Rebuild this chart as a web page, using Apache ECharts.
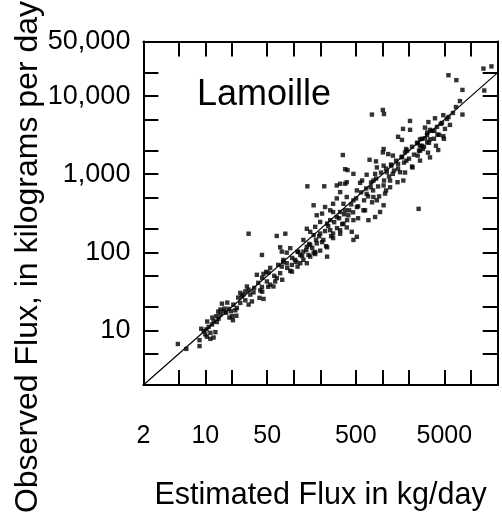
<!DOCTYPE html>
<html>
<head>
<meta charset="utf-8">
<script src="https://cdn.jsdelivr.net/npm/echarts@6/dist/echarts.min.js"></script>
<style>
html,body{margin:0;padding:0;background:#fff;}
#chart{width:502px;height:522px;}
</style>
</head>
<body>
<div id="chart"></div>
<script>
// ---- data (kg/day) ----
const estimatedFlux = [
4.9,6.1,8.6,8.6,9.0,9.6,10.3,10,10.4,11.4,10.9,11.9,11.4,12.4,13,12.4,13.5,14.1,13.3,14.8,
15.4,14.8,16,17.2,18.3,19.5,20,20.5,21.8,22.7,24.8,25.9,24.8,28.3,29.5,30.8,32.2,33.6,30.8,28.3,
35,35.6,38.2,43.6,45.4,51.7,49.6,54,58.8,61.5,43.6,41.7,45.4,40.9,64,70,73,76,83,91,
95,103,118,128,140,153,167,198,237,118,95,110,73,83,
30.8,64,80,70,91,110,128,140,153,181,215,237,174,146,128,140,153,167,198,257,
277,333,395,450,514,470,167,181,208,225,237,257,277,305,333,363,379,395,470,514,
610,694,826,940,1030,865,790,663,514,559,737,790,663,826,1030,1219,1070,1219,1480,1720,
1579,1310,1120,865,1030,1260,1500,2180,1860,1640,1310,1160,1010,845,715,1798,2500,2655,2860,2500,
2780,3200,4260,3440,357,379,403,470,395,379,333,305,333,142,220,2560,305,277,257,198,
174,363,412,470,
13800,17000,5560,6830,8000,14100,760,1010,1040,4860,5570,8000,3300,3920,4550,2050,3020,3440,3850,3200,
4180,4860,1660,2655,3020,3440,2655,1030,1850,
10.5,12.0,14.0,16.4,17.7,20.7,23.5,26.8,22.4,18.7,
39.6,43.9,48.7,54,60,66.5,75.7,84,95.7,106,112,124,73.8,51.3,43.9,
138,149,161,178,193,208,225,244,263,285,307,324,351,369,399,420,174,231,277,333,
443,466,504,531,574,620,653,688,744,783,847,892,964,1042,1098,1186,1250,1351,1423,1500,
531,636,764,916,1098,589,
1663,1752,1894,1995,2157,2272,2455,2586,2795,2945,3184,3353,3625,3818,4127,4347,4700,5078,5349,5781,
6250,6760,7494,1798,2157,2655,3266,4018,4943,1500,1706,2047
];
const observedFlux = [
6.7,5.8,7.5,6.3,10.5,9.8,10.3,8.9,8.3,9.3,11.1,11.9,7.8,8.1,9.5,13.1,12.8,14.1,15.2,16,
22,18.5,17.6,16.8,18.9,17.6,15.2,13.5,18.1,19.4,22.5,27.3,30.2,31.6,36.5,33.2,28.7,23.5,21.4,24.3,
30.7,35,51.5,92.5,53,55,42.3,38.5,36.5,42.3,36,32.5,25.3,26.1,46.8,54,65.6,80,72.5,58,
69,80,92.5,80,72.5,88,99,105,88,72.5,56.5,65.6,102,99,
173,162,173,116,113,102,144,118,124,130,144,116,95,92.5,102,200,183,166,174,192,
174,173,208,183,158,144,400,298,313,380,233,258,328,283,328,418,345,510,463,380,
345,258,283,328,400,463,510,560,620,775,680,830,985,1010,718,830,565,680,790,830,
1060,1010,1060,1220,1288,1288,1350,1220,1490,1640,1730,1810,1900,1460,1530,1900,1730,2000,2100,2480,
2310,2560,2040,1640,1760,1160,1130,1010,790,755,755,718,590,700,700,360,490,418,345,245,
212,233,298,258,
22500,24000,18500,16000,12000,11800,5800,6650,5900,5700,5400,5800,4650,5200,4400,3700,3950,3700,3590,3420,
3210,3070,2750,2800,2880,2800,2310,2100,2100,
13.0,14.6,17.4,19.0,22.7,21.4,26.3,28.7,15.4,14.6,
40.7,47.2,56.2,63.2,50,69,75.4,63.2,84.7,75.4,101,89.8,44.5,36.2,31.3,
107,128,114,144,161,135,187,216,161,243,204,273,229,307,258,345,101,120,152,192,
411,325,490,388,585,463,657,520,783,620,881,697,1050,830,1180,934,1327,1113,1492,1180,
273,345,437,520,620,830,
1677,1406,1998,1581,2247,1779,2527,1998,2841,2247,3194,2527,3589,2841,4035,3194,4536,3802,5100,4276,
6080,7245,8636,1050,1253,1492,1886,2313,2841,3012,3802,4809
];
const oneToOneLine = [2, 20000];
const xRange = [2, 20000];
const yRange = [2, 50000];
const xTickValues = [5,10,20,50,100,200,500,1000,2000,5000,10000];
const xLabelValues = [2,10,50,500,5000];
const xLabelTexts = ['2','10','50','500','5000'];
const yTickValues = [5,10,20,50,100,200,500,1000,2000,5000,10000,20000];
const yLabelValues = [10,100,1000,10000,50000];
const yLabelTexts = ['10','100','1,000','10,000','50,000'];
const siteName = 'Lamoille';
const xTitle = 'Estimated Flux in kg/day';
const yTitle = 'Observed Flux, in kilograms per day';

// ---- chart ----
const L = v => Math.log10(v);
const FONT = '"Liberation Sans", Arial, Helvetica, sans-serif';
function fmt(vals, texts) {
  return function (v) {
    for (let i = 0; i < vals.length; i++) {
      if (Math.abs(L(vals[i]) - v) < 1e-6) return texts[i];
    }
    return '';
  };
}
const lineSt = {color: '#000', width: 2};
function makeAxis(pos, range, ticks, labelVals, labelTexts, isX) {
  const ax = {
    type: 'value',
    position: pos,
    gridIndex: 0,
    min: L(range[0]),
    max: L(range[1]),
    splitLine: {show: false},
    axisLine: {show: true, onZero: false, lineStyle: lineSt},
    axisTick: {show: true, inside: true, length: 15, customValues: ticks.map(L), lineStyle: lineSt},
    axisLabel: {show: false}
  };
  if (labelVals) {
    ax.axisLabel = {
      show: true,
      customValues: labelVals.map(L),
      formatter: fmt(labelVals, labelTexts),
      color: '#000',
      fontSize: isX ? 25 : 27,
      fontFamily: FONT,
      margin: isX ? 39 : 13
    };
  }
  return ax;
}
const xBottom = makeAxis('bottom', xRange, xTickValues, xLabelValues, xLabelTexts, true);
xBottom.name = xTitle;
xBottom.nameLocation = 'middle';
xBottom.nameGap = 95;
xBottom.nameTextStyle = {color: '#000', fontSize: 30.5, fontFamily: FONT};
const xTop = makeAxis('top', xRange, xTickValues, null, null, true);
const yLeft = makeAxis('left', yRange, yTickValues, yLabelValues, yLabelTexts, false);
const yRight = makeAxis('right', yRange, yTickValues, null, null, false);

const chart = echarts.init(document.getElementById('chart'), null, {renderer: 'canvas'});
chart.setOption({
  animation: false,
  backgroundColor: '#fff',
  grid: {left: 143.4, right: 4.3, top: 41.5, bottom: 137, containLabel: false},
  xAxis: [xBottom, xTop],
  yAxis: [yLeft, yRight],
  graphic: [
    {type: 'text', left: 197, top: 77, style: {text: siteName, fill: '#000', font: '36px ' + FONT}},
    {type: 'text', x: 28, y: 257, rotation: Math.PI / 2,
     style: {text: yTitle, fill: '#000', font: '32px ' + FONT, textAlign: 'center', textVerticalAlign: 'middle'}}
  ],
  series: [
    {
      type: 'line',
      xAxisIndex: 0, yAxisIndex: 0,
      data: oneToOneLine.map(v => [L(v), L(v)]),
      symbol: 'none',
      lineStyle: {color: '#000', width: 1.2},
      silent: true
    },
    {
      type: 'scatter',
      xAxisIndex: 0, yAxisIndex: 0,
      symbol: 'rect',
      symbolSize: 4.4,
      itemStyle: {color: '#000'},
      data: estimatedFlux.map((x, i) => [L(x), L(observedFlux[i])])
    }
  ]
});
</script>
</body>
</html>
